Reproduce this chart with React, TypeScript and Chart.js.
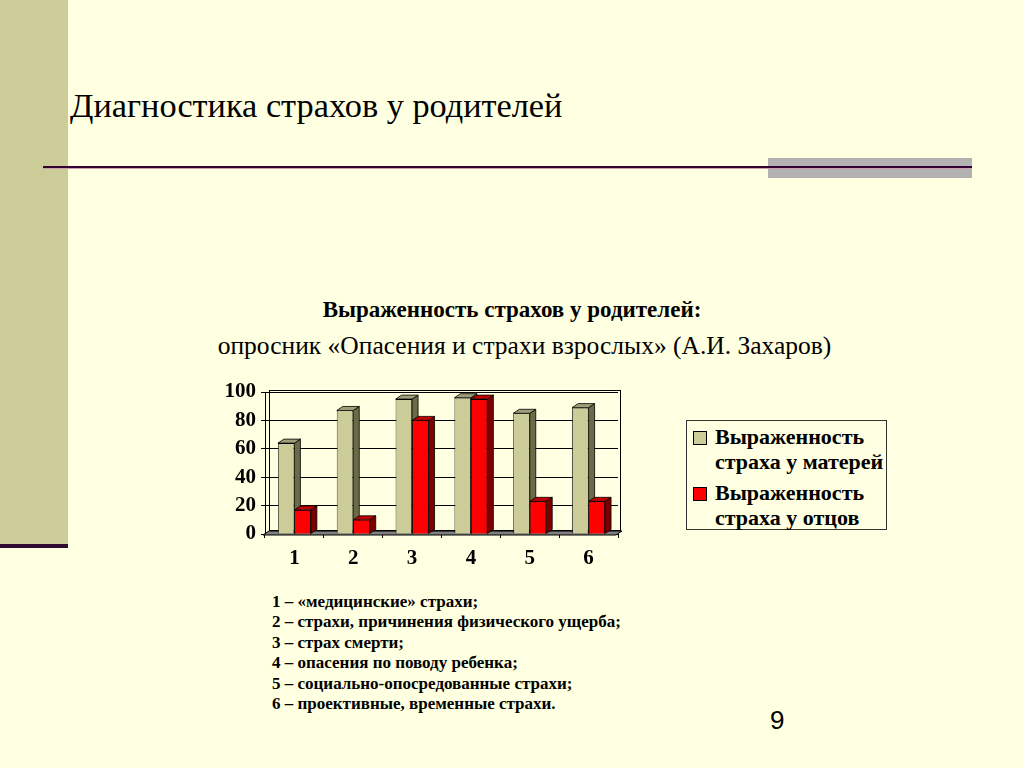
import React, { useEffect, useRef } from "react";
import { Chart, registerables } from "chart.js";

Chart.register(...registerables);

const categories = ["1", "2", "3", "4", "5", "6"];
const mothersValues = [64, 87, 95, 96, 85, 89];
const fathersValues = [17, 10, 80, 95, 23, 23];
const seriesNames = ["Выраженность страха у матерей", "Выраженность страха у отцов"];
const yTicks = [0, 20, 40, 60, 80, 100];
const footnotes = [
  "1 – «медицинские» страхи;",
  "2 – страхи, причинения физического ущерба;",
  "3 – страх смерти;",
  "4 – опасения по поводу ребенка;",
  "5 – социально-опосредованные страхи;",
  "6 – проективные, временные страхи.",
];

const BG = "#FFFFE1";
const KHAKI = "#CCCC99";
const RED = "#FF0000";
const SERIF = "'Liberation Serif', 'Times New Roman', serif";

const faces = [
  { side: "#6B6B48", top: "#9E9E78" },
  { side: "#7A0000", top: "#C00000" },
];

const bar3d = {
  id: "bar3d",
  beforeDatasetsDraw(chart: any) {
    const { ctx, chartArea } = chart;
    const b = chartArea.bottom;
    ctx.save();
    ctx.strokeStyle = "#000";
    ctx.lineWidth = 1;
    ctx.strokeRect(chartArea.left + 4.5, chartArea.top - 1.5, chartArea.right - chartArea.left - 2, b - 3 - chartArea.top + 1);
    ctx.fillStyle = "#7F7F7F";
    ctx.beginPath();
    ctx.moveTo(chartArea.left - 2, b + 1);
    ctx.lineTo(chartArea.right - 2, b + 1);
    ctx.lineTo(chartArea.right + 4, b - 3);
    ctx.lineTo(chartArea.left + 4, b - 3);
    ctx.closePath();
    ctx.fill();
    ctx.stroke();
    ctx.restore();
  },
  afterDatasetsDraw(chart: any) {
    const { ctx } = chart;
    const dx = 6;
    const dy = 4;
    const n = chart.data.labels.length;
    for (let i = 0; i < n; i++) {
      for (let d = 0; d < chart.data.datasets.length; d++) {
        const el = chart.getDatasetMeta(d).data[i];
        if (!el) continue;
        const f = faces[d];
        if (d > 0) el.draw(ctx, chart.chartArea);
        const { x, y, base, width } = el.getProps(["x", "y", "base", "width"], true);
        const l = x - width / 2;
        const r = x + width / 2;
        ctx.save();
        ctx.strokeStyle = "#000";
        ctx.lineWidth = 0.8;
        ctx.fillStyle = f.side;
        ctx.beginPath();
        ctx.moveTo(r, y);
        ctx.lineTo(r + dx, y - dy);
        ctx.lineTo(r + dx, base - dy);
        ctx.lineTo(r, base);
        ctx.closePath();
        ctx.fill();
        ctx.stroke();
        ctx.fillStyle = f.top;
        ctx.beginPath();
        ctx.moveTo(l, y);
        ctx.lineTo(l + dx, y - dy);
        ctx.lineTo(r + dx, y - dy);
        ctx.lineTo(r, y);
        ctx.closePath();
        ctx.fill();
        ctx.stroke();
        ctx.restore();
      }
    }
  },
};

function BarChart() {
  const ref = useRef<HTMLCanvasElement>(null);
  useEffect(() => {
    if (!ref.current) return;
    const chart = new Chart(ref.current, {
      type: "bar",
      data: {
        labels: categories,
        datasets: [
          {
            label: seriesNames[0],
            data: mothersValues,
            backgroundColor: KHAKI,
            borderColor: "#000",
            borderWidth: 0.8,
            categoryPercentage: 0.56,
            barPercentage: 1,
          },
          {
            label: seriesNames[1],
            data: fathersValues,
            backgroundColor: RED,
            borderColor: "#000",
            borderWidth: 0.8,
            categoryPercentage: 0.56,
            barPercentage: 1,
          },
        ],
      },
      options: {
        responsive: false,
        animation: false,
        layout: { padding: { top: 12, right: 17, left: 0, bottom: 0 } },
        plugins: { legend: { display: false }, tooltip: { enabled: false }, title: { display: false } },
        scales: {
          x: {
            grid: { display: true, drawOnChartArea: false, offset: true, color: "#000", tickLength: 4 },
            border: { display: false },
            ticks: { color: "#000", font: { family: SERIF, size: 21, weight: "bold" }, padding: 8, autoSkip: false },
            afterFit: (s: any) => {
              s.height = 46;
              s.paddingLeft = 0;
              s.paddingRight = 0;
            },
          },
          y: {
            min: 0,
            max: 100,
            afterBuildTicks: (s: any) => {
              s.ticks = yTicks.map((v) => ({ value: v }));
            },
            grid: { color: "#000", lineWidth: 1, tickLength: 4, drawTicks: true },
            border: { display: true, color: "#000" },
            ticks: { color: "#000", font: { family: SERIF, size: 21, weight: "bold" }, padding: 5, autoSkip: false },
            afterFit: (s: any) => {
              s.width = 50;
              s.paddingTop = 0;
              s.paddingBottom = 0;
            },
          },
        },
      },
      plugins: [bar3d],
    });
    return () => chart.destroy();
  }, []);
  return <canvas ref={ref} width={420} height={200} style={{ position: "absolute", left: 215, top: 380 }} />;
}

export default function App() {
  return (
    <div style={{ position: "fixed", left: 0, top: 0, width: 1024, height: 768, background: BG, overflow: "hidden", fontFamily: SERIF }}>
      <div style={{ position: "absolute", left: 0, top: 0, width: 68, height: 545, background: KHAKI }} />
      <div style={{ position: "absolute", left: 0, top: 544, width: 68, height: 4, background: "#2E0A2E" }} />
      <div style={{ position: "absolute", left: 768, top: 158, width: 204, height: 20, background: "#B2B2B2" }} />
      <div style={{ position: "absolute", left: 43, top: 166, width: 929, height: 2, background: "#330033" }} />
      <div style={{ position: "absolute", left: 43, top: 168, width: 929, height: 1, background: "#C9A0A8" }} />
      <div style={{ position: "absolute", left: 70, top: 85, fontSize: 34.3, lineHeight: "40px", color: "#000", whiteSpace: "nowrap" }}>
        Диагностика страхов у родителей
      </div>
      <div style={{ position: "absolute", left: 0, width: 1024, top: 296, lineHeight: "28px", textAlign: "center", fontSize: 23, fontWeight: "bold", color: "#000" }}>
        Выраженность страхов у родителей:
      </div>
      <div style={{ position: "absolute", left: 0, width: 1049, top: 331, lineHeight: "30px", textAlign: "center", fontSize: 25.5, color: "#000", whiteSpace: "nowrap" }}>
        опросник «Опасения и страхи взрослых» (А.И. Захаров)
      </div>
      <BarChart />
      <div
        style={{
          position: "absolute",
          left: 686,
          top: 420,
          width: 201,
          height: 110,
          border: "1px solid #333",
          boxSizing: "border-box",
          fontSize: 22,
          fontWeight: "bold",
          lineHeight: "25px",
          color: "#000",
        }}
      >
        {seriesNames.map((n, i) => {
          const parts = n.split(" ");
          return (
            <div key={i} style={{ position: "absolute", left: 28, top: 3 + i * 56, whiteSpace: "nowrap" }}>
              <div
                style={{
                  position: "absolute",
                  left: -22,
                  top: 7,
                  width: 12,
                  height: 12,
                  background: i === 0 ? KHAKI : RED,
                  border: "1px solid #000",
                }}
              />
              <div>{parts[0]}</div>
              <div>{parts.slice(1).join(" ")}</div>
            </div>
          );
        })}
      </div>
      <div style={{ position: "absolute", left: 272, top: 592, fontSize: 17, fontWeight: "bold", lineHeight: "20.4px", color: "#000" }}>
        {footnotes.map((t, i) => (
          <div key={i} style={{ whiteSpace: "nowrap" }}>{t}</div>
        ))}
      </div>
      <div style={{ position: "absolute", left: 770, top: 705, fontSize: 26, fontFamily: "'Liberation Sans', Arial, sans-serif", color: "#000" }}>
        9
      </div>
    </div>
  );
}
